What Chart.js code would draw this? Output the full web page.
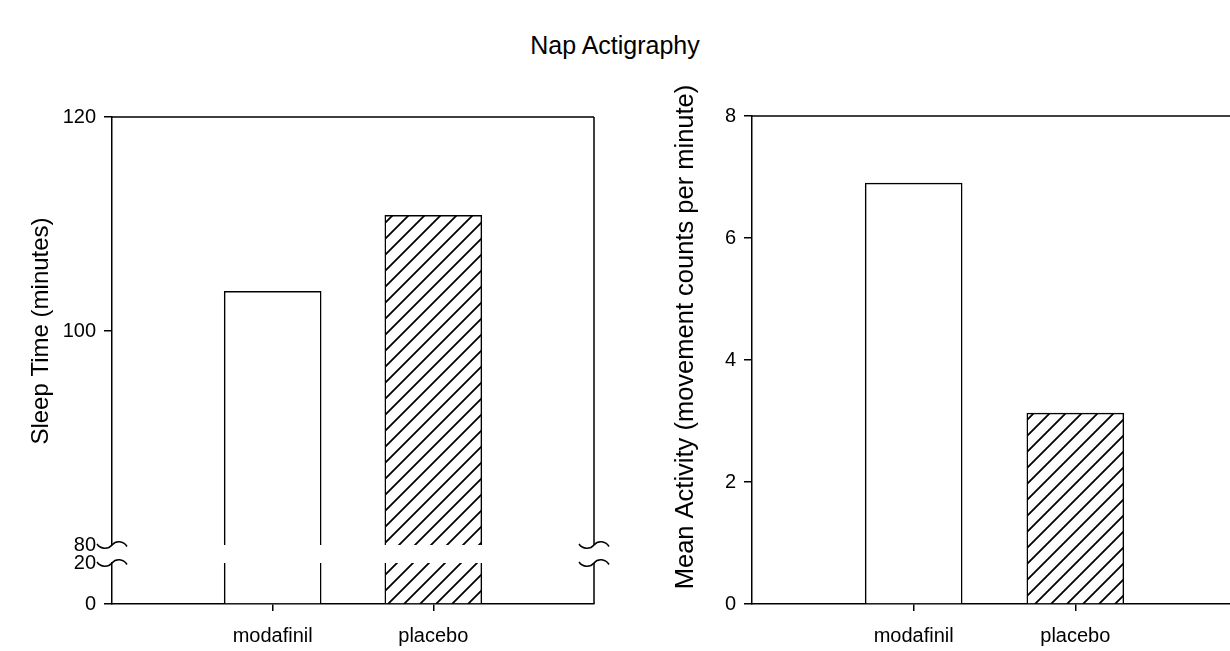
<!DOCTYPE html>
<html><head><meta charset="utf-8">
<script src="https://cdn.jsdelivr.net/npm/chart.js@4.4.1/dist/chart.umd.min.js"></script>
<style>
html,body{margin:0;padding:0;background:#fff;overflow:hidden;width:1230px;height:651px;position:relative;}
#title{position:absolute;left:0;top:31px;width:1230px;text-align:center;font-family:'Liberation Sans',Arial,sans-serif;font-size:25px;line-height:28px;color:#000;}
#w1{position:absolute;left:0;top:0;width:615px;height:651px;}
#w2{position:absolute;left:615px;top:0;width:625px;height:651px;}
</style></head><body>
<div id="title"></div>
<div id="w1"><canvas id="c1"></canvas></div>
<div id="w2"><canvas id="c2"></canvas></div>
<script>
// ---- data ----
const chartTitle = 'Nap Actigraphy';
const categories = ['modafinil', 'placebo'];
const sleepTime = [103.7, 110.8];      // minutes
const meanActivity = [6.9, 3.13];      // movement counts per minute
const sleepTicksLow = [0, 20];
const sleepTicksHigh = [80, 100, 120];
const activityTicks = [0, 2, 4, 6, 8];
const sleepAxisTitle = 'Sleep Time (minutes)';
const activityAxisTitle = 'Mean Activity (movement counts per minute)';

document.getElementById('title').textContent = chartTitle;

const FONT = "'Liberation Sans', Arial, sans-serif";
Chart.defaults.font.family = FONT;
Chart.defaults.color = '#000';

const INK = '#000';
const LW = 1.5;

function makeHatch() {
  const s = 16, c = document.createElement('canvas');
  c.width = s; c.height = s;
  const g = c.getContext('2d');
  g.fillStyle = '#fff'; g.fillRect(0, 0, s, s);
  g.strokeStyle = INK; g.lineWidth = 1.8;
  g.beginPath();
  for (const k of [0, s, 2 * s]) { g.moveTo(-2, k + 2); g.lineTo(k + 2, -2); }
  g.stroke();
  return g.createPattern(c, 'repeat');
}
const hatch = makeHatch();
const fills = ['#ffffff', hatch];

const xLabels = ['', ...categories, ''];
const pad = arr => [null, ...arr, null];

function squiggle(ctx, x, y) {
  const w = 15, h = 4.5;
  ctx.beginPath();
  ctx.moveTo(x - w, y - 1);
  ctx.bezierCurveTo(x - w * 0.75, y + h, x - w * 0.25, y + h, x, y);
  ctx.bezierCurveTo(x + w * 0.25, y - h, x + w * 0.75, y - h, x + w, y + 1.5);
  ctx.stroke();
}

const frameLeft = {
  id: 'frameLeft',
  afterDraw(chart) {
    const {ctx, chartArea: a} = chart;
    const hi = chart.scales.yHigh, lo = chart.scales.yLow;
    const yTop = hi.getPixelForValue(hi.max), yB1 = hi.getPixelForValue(hi.min);
    const yB2 = lo.getPixelForValue(lo.max), yBot = lo.getPixelForValue(lo.min);
    ctx.save();
    ctx.strokeStyle = INK; ctx.lineWidth = LW;
    ctx.beginPath();
    ctx.moveTo(a.left, yTop); ctx.lineTo(a.right, yTop);
    ctx.moveTo(a.right, yTop); ctx.lineTo(a.right, yB1);
    ctx.moveTo(a.right, yB2); ctx.lineTo(a.right, yBot);
    ctx.stroke();
    for (const x of [a.left, a.right]) for (const y of [yB1, yB2]) squiggle(ctx, x, y);
    ctx.restore();
  }
};
const frameRight = {
  id: 'frameRight',
  afterDraw(chart) {
    const {ctx, chartArea: a} = chart;
    const y = chart.scales.y, yTop = y.getPixelForValue(y.max);
    ctx.save();
    ctx.strokeStyle = INK; ctx.lineWidth = LW;
    ctx.beginPath(); ctx.moveTo(a.left, yTop); ctx.lineTo(a.right, yTop); ctx.stroke();
    // axis title, sitting a little above the centre of the axis as in the original
    ctx.fillStyle = INK;
    ctx.font = '25.5px ' + FONT;
    ctx.textAlign = 'center'; ctx.textBaseline = 'middle';
    ctx.translate(y.left + 71, (y.top + y.bottom) / 2 - 23);
    ctx.rotate(-Math.PI / 2);
    ctx.fillText(activityAxisTitle, 0, 0);
    ctx.restore();
  }
};

function xScale() {
  return {
    type: 'category', offset: false,
    grid: { offset: false, drawOnChartArea: false, drawTicks: true, tickLength: 7, lineWidth: LW,
            color: c => (c.index > 0 && c.index < xLabels.length - 1) ? INK : 'rgba(0,0,0,0)' },
    border: { display: true, color: INK, width: LW },
    ticks: { font: { size: 20 }, padding: 13, color: INK, maxRotation: 0, autoSkip: false },
    afterFit: s => { s.height = 47; s.paddingLeft = 0; s.paddingRight = 0; }
  };
}
function yGrid(hidden) {
  return { drawOnChartArea: false, drawTicks: true, tickLength: 8, lineWidth: LW,
           color: c => (c.tick && hidden.includes(c.tick.value)) ? 'rgba(0,0,0,0)' : INK };
}
const tickArr = arr => s => { s.ticks = arr.map(v => ({ value: v })); };
const yTicks = { font: { size: 20 }, padding: 8, color: INK, autoSkip: false };

function barSet(values, axis, topBorder) {
  return {
    data: pad(values), yAxisID: axis,
    backgroundColor: pad(fills), borderColor: INK,
    borderWidth: { left: LW, right: LW, top: topBorder ? LW : 0, bottom: 0 },
    borderSkipped: false, grouped: false, barThickness: 97
  };
}

const lowMax = sleepTicksLow[sleepTicksLow.length - 1];
new Chart(document.getElementById('c1'), {
  type: 'bar',
  data: {
    labels: xLabels,
    datasets: [
      barSet(sleepTime.map(v => Math.min(v, lowMax)), 'yLow', false),
      barSet(sleepTime, 'yHigh', true)
    ]
  },
  options: {
    responsive: true, maintainAspectRatio: false, animation: false,
    layout: { padding: { left: 0, top: 117, right: 21, bottom: 0 } },
    plugins: { legend: { display: false }, tooltip: { enabled: false } },
    scales: {
      x: xScale(),
      yLow: {
        type: 'linear', position: 'left', stack: 'sleep', stackWeight: 41, weight: 0,
        min: sleepTicksLow[0], max: lowMax, afterBuildTicks: tickArr(sleepTicksLow),
        grid: yGrid([lowMax]), border: { display: true, color: INK, width: LW },
        ticks: yTicks,
        afterFit: s => { s.width = 112; }
      },
      yGap: {
        type: 'linear', position: 'left', stack: 'sleep', stackWeight: 18, weight: 1,
        min: 0, max: 1, ticks: { display: false }, grid: { display: false }, border: { display: false },
        afterFit: s => { s.width = 112; }
      },
      yHigh: {
        type: 'linear', position: 'left', stack: 'sleep', stackWeight: 428, weight: 2,
        min: sleepTicksHigh[0], max: sleepTicksHigh[sleepTicksHigh.length - 1],
        afterBuildTicks: tickArr(sleepTicksHigh),
        grid: yGrid([sleepTicksHigh[0]]), border: { display: true, color: INK, width: LW },
        ticks: yTicks,
        title: { display: true, text: sleepAxisTitle, font: { size: 24 }, color: INK, padding: { top: 27, bottom: 0 } },
        afterFit: s => { s.width = 112; }
      }
    }
  },
  plugins: [frameLeft]
});

new Chart(document.getElementById('c2'), {
  type: 'bar',
  data: {
    labels: xLabels,
    datasets: [ barSet(meanActivity, 'y', true) ]
  },
  options: {
    responsive: true, maintainAspectRatio: false, animation: false,
    layout: { padding: { left: 0, top: 116, right: 3, bottom: 0 } },
    plugins: { legend: { display: false }, tooltip: { enabled: false } },
    scales: {
      x: xScale(),
      y: {
        type: 'linear', position: 'left',
        min: activityTicks[0], max: activityTicks[activityTicks.length - 1],
        afterBuildTicks: tickArr(activityTicks),
        grid: yGrid([]), border: { display: true, color: INK, width: LW },
        ticks: yTicks,
        afterFit: s => { s.width = 137; }
      }
    }
  },
  plugins: [frameRight]
});
</script>
</body></html>
